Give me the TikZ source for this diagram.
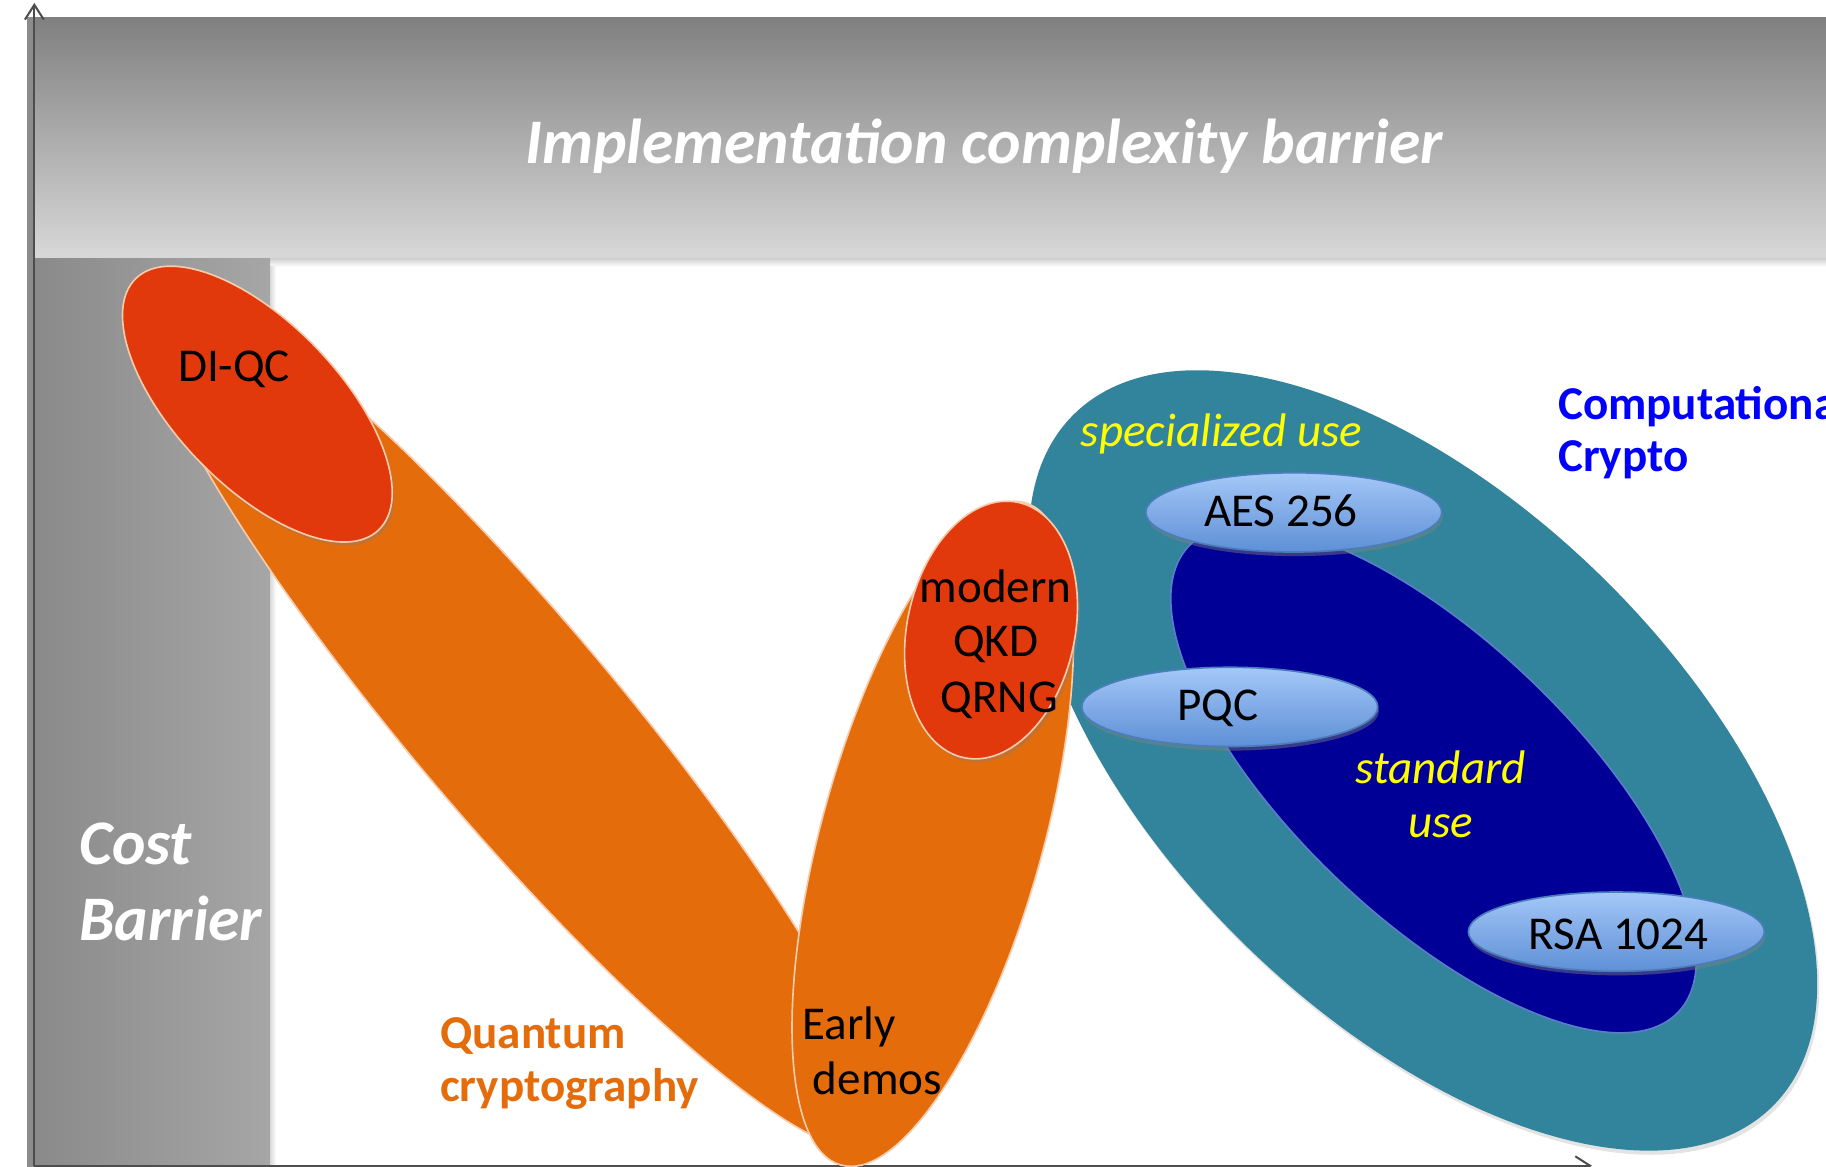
\documentclass[tikz,border=0pt]{standalone}
\usepackage{fontspec}
\setmainfont{Carlito}
\usetikzlibrary{shapes.geometric,arrows.meta,shadows}
\definecolor{bnTop}{HTML}{808080}
\definecolor{bnBot}{HTML}{D8D8D8}
\definecolor{bandC}{HTML}{8C8C8C}
\definecolor{colL}{HTML}{8A8A8A}
\definecolor{colR}{HTML}{A6A6A6}
\definecolor{orangeQ}{HTML}{E46C0A}
\definecolor{redQ}{HTML}{E2390C}
\definecolor{edgeO}{HTML}{F8CBAD}
\definecolor{tealC}{HTML}{31849B}
\definecolor{navyC}{HTML}{000096}
\definecolor{navyEdge}{HTML}{5B7DC8}
\definecolor{lbTop}{HTML}{A4C8F8}
\definecolor{lbBot}{HTML}{5E8FD6}
\definecolor{lbLine}{HTML}{4A7EBB}
\definecolor{axisC}{HTML}{4D4D4D}
\definecolor{yellowT}{HTML}{FFFF00}
\definecolor{blueT}{HTML}{0000FF}
\begin{document}
\begin{tikzpicture}[x=0.01cm,y=-0.01cm,
  every node/.style={inner sep=0pt,outer sep=0pt},
  txt/.style={font=\fontsize{11.5}{13.8}\selectfont,anchor=base,text=black},
  txtw/.style={font=\fontsize{11.5}{13.8}\selectfont,anchor=base west,text=black},
  boldlbl/.style={font=\fontsize{11.5}{13.8}\selectfont\bfseries,anchor=base west},
  itallbl/.style={font=\fontsize{11.5}{13.8}\selectfont\itshape,text=yellowT},
  big/.style={font=\fontsize{15.5}{18.6}\selectfont\bfseries\itshape,text=white},
  blob/.style={ellipse,draw=edgeO,line width=0.4pt},
  orangeblob/.style={blob,fill=orangeQ},
  redblob/.style={blob,fill=redQ,drop shadow={opacity=0.35,shadow xshift=0.6pt,shadow yshift=-0.9pt}},
  lbell/.style={ellipse,minimum width=2.54cm,minimum height=0.68cm,top color=lbTop,bottom color=lbBot,draw=lbLine,line width=0.4pt,drop shadow={opacity=0.45,shadow xshift=0.3pt,shadow yshift=-1pt}},
  tealblob/.style={ellipse,fill=tealC,drop shadow={opacity=0.22,shadow xshift=0.5pt,shadow yshift=-1pt}},
  navyblob/.style={ellipse,fill=navyC,draw=navyEdge,line width=0.4pt},
  axisline/.style={draw=axisC,line width=0.5pt,-{Straight Barb[length=3.6pt,width=4.6pt]}},
]
\useasboundingbox (0,0) rectangle (1568,1002);
% banner and cost column
\fill[bandC] (23,15) rectangle (29.5,1002);
\shade[top color=bnTop,bottom color=bnBot] (29,15) rectangle (1570,222);
\shade[top color=black!18,bottom color=white] (232,222) rectangle (1568,229);
\shade[left color=colL,right color=colR] (29,222) rectangle (232,1002);
\shade[left color=black!15,right color=white] (232,229) rectangle (237,1002);
% axes
\coordinate (origin) at (29.5,1001);
\coordinate (ytip) at (29.5,2.5);
\coordinate (xtip) at (1367,1001);
\draw[axisline] (origin) -- (ytip);
\draw[axisline] (origin) -- (xtip);
% computational crypto
\node[tealblob,minimum width=8.44cm,minimum height=4.4cm,rotate=-44.5] (comp) at (1222,653) {};
\node[navyblob,minimum width=5.8cm,minimum height=2.38cm,rotate=-43.6] (std) at (1231,669) {};
\node[lbell] (aes) at (1111,440) {};
\node[lbell] (pqc) at (1056,607) {};
\node[lbell] (rsa) at (1388,800) {};
% quantum crypto
\node[orangeblob,minimum width=9.6cm,minimum height=1.76cm,rotate=-49.8] (qc) at (440,616) {};
\node[redblob,minimum width=3.0cm,minimum height=1.4cm,rotate=-46] (diqc) at (221,347) {};
\node[orangeblob,minimum width=5.9cm,minimum height=1.9cm,rotate=74.5] (early) at (801,716) {};
\node[redblob,minimum width=2.24cm,minimum height=1.44cm,rotate=78] (modern) at (851,541) {};
% texts
\node[big,anchor=base] (bannertxt) at (845,140) {Implementation complexity barrier};
\node[big,anchor=base west] (costtxt) at (68,742) {Cost};
\node[big,anchor=base west] (barriertxt) at (68,808) {Barrier};
\node[txt] (diqctxt) at (201,328) {DI-QC};
\node[txt] (moderntxt) at (855,517) {modern};
\node[txt] (qkdtxt) at (855,564) {QKD};
\node[txt] (qrngtxt) at (858,612) {QRNG};
\node[txtw] (earlytxt) at (689,893) {Early};
\node[txtw] (demostxt) at (698,940) {demos};
\node[boldlbl,text=orangeQ] (quanttxt) at (378,900) {Quantum};
\node[boldlbl,text=orangeQ] (crypttxt) at (378,946) {cryptography};
\node[boldlbl,text=blueT] (comptxt) at (1338,360) {Computational};
\node[boldlbl,text=blueT] (cryptotxt) at (1338,405) {Crypto};
\node[itallbl,anchor=base west] (spectxt) at (928,383) {specialized use};
\node[txt] (aestxt) at (1100,452) {AES 256};
\node[txt] (pqctxt) at (1046,619) {PQC};
\node[itallbl,anchor=base] (stdtxt) at (1237,673) {standard};
\node[itallbl,anchor=base] (usetxt) at (1237,719) {use};
\node[txt] (rsatxt) at (1390,815) {RSA 1024};
\end{tikzpicture}
\end{document}
